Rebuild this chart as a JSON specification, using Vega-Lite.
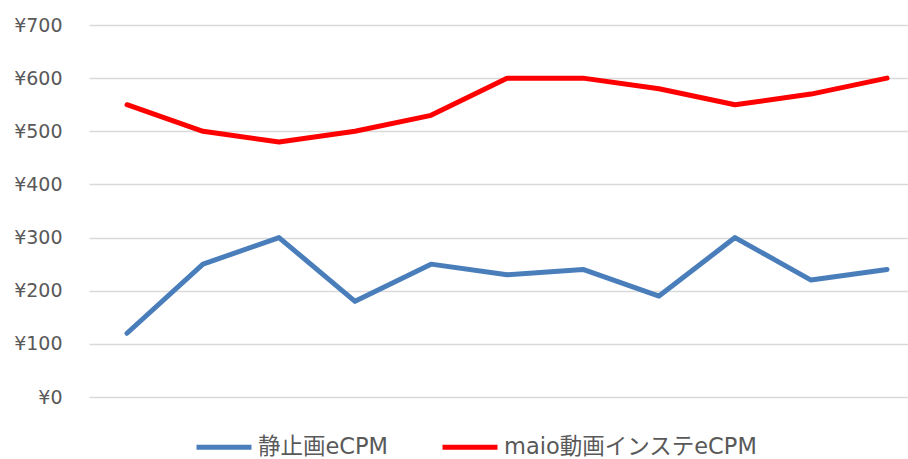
{
  "$schema": "https://vega.github.io/schema/vega-lite/v6.json",
  "width": 819,
  "height": 372,
  "autosize": {"type": "none"},
  "padding": {"left": 89, "top": 25, "right": 0, "bottom": 62},
  "background": "white",
  "config": {
    "view": {"stroke": null},
    "font": "DejaVu Sans, Noto Sans CJK JP, sans-serif"
  },
  "data": {
    "values": [
      {"i": 1, "s": "静止画eCPM", "v": 120},
      {"i": 2, "s": "静止画eCPM", "v": 250},
      {"i": 3, "s": "静止画eCPM", "v": 300},
      {"i": 4, "s": "静止画eCPM", "v": 180},
      {"i": 5, "s": "静止画eCPM", "v": 250},
      {"i": 6, "s": "静止画eCPM", "v": 230},
      {"i": 7, "s": "静止画eCPM", "v": 240},
      {"i": 8, "s": "静止画eCPM", "v": 190},
      {"i": 9, "s": "静止画eCPM", "v": 300},
      {"i": 10, "s": "静止画eCPM", "v": 220},
      {"i": 11, "s": "静止画eCPM", "v": 240},
      {"i": 1, "s": "maio動画インステeCPM", "v": 550},
      {"i": 2, "s": "maio動画インステeCPM", "v": 500},
      {"i": 3, "s": "maio動画インステeCPM", "v": 480},
      {"i": 4, "s": "maio動画インステeCPM", "v": 500},
      {"i": 5, "s": "maio動画インステeCPM", "v": 530},
      {"i": 6, "s": "maio動画インステeCPM", "v": 600},
      {"i": 7, "s": "maio動画インステeCPM", "v": 600},
      {"i": 8, "s": "maio動画インステeCPM", "v": 580},
      {"i": 9, "s": "maio動画インステeCPM", "v": 550},
      {"i": 10, "s": "maio動画インステeCPM", "v": 570},
      {"i": 11, "s": "maio動画インステeCPM", "v": 600}
    ]
  },
  "mark": {"type": "line", "strokeWidth": 5, "strokeCap": "round", "strokeJoin": "round"},
  "encoding": {
    "x": {
      "field": "i",
      "type": "quantitative",
      "scale": {"domain": [0.5, 11.276], "nice": false, "zero": false},
      "axis": null
    },
    "y": {
      "field": "v",
      "type": "quantitative",
      "scale": {"domain": [0, 700], "nice": false},
      "axis": {
        "title": null,
        "values": [0, 100, 200, 300, 400, 500, 600, 700],
        "labelExpr": "'¥' + datum.value",
        "labelFontSize": 19,
        "labelColor": "#595959",
        "labelPadding": 27,
        "ticks": false,
        "domain": false,
        "gridColor": "#d9d9d9",
        "gridWidth": 1.5
      }
    },
    "color": {
      "field": "s",
      "type": "nominal",
      "sort": ["静止画eCPM", "maio動画インステeCPM"],
      "scale": {"domain": ["静止画eCPM", "maio動画インステeCPM"], "range": ["#4a7ebb", "#ff0000"]},
      "legend": {
        "title": null,
        "orient": "none",
        "legendX": 100,
        "legendY": 387,
        "padding": 5,
        "direction": "horizontal",
        "symbolType": "stroke",
        "symbolSize": 3025,
        "symbolStrokeWidth": 5,
        "labelFontSize": 22.5,
        "labelColor": "#595959",
        "labelOffset": 4,
        "columnPadding": 43,
        "labelLimit": 400
      }
    }
  }
}
